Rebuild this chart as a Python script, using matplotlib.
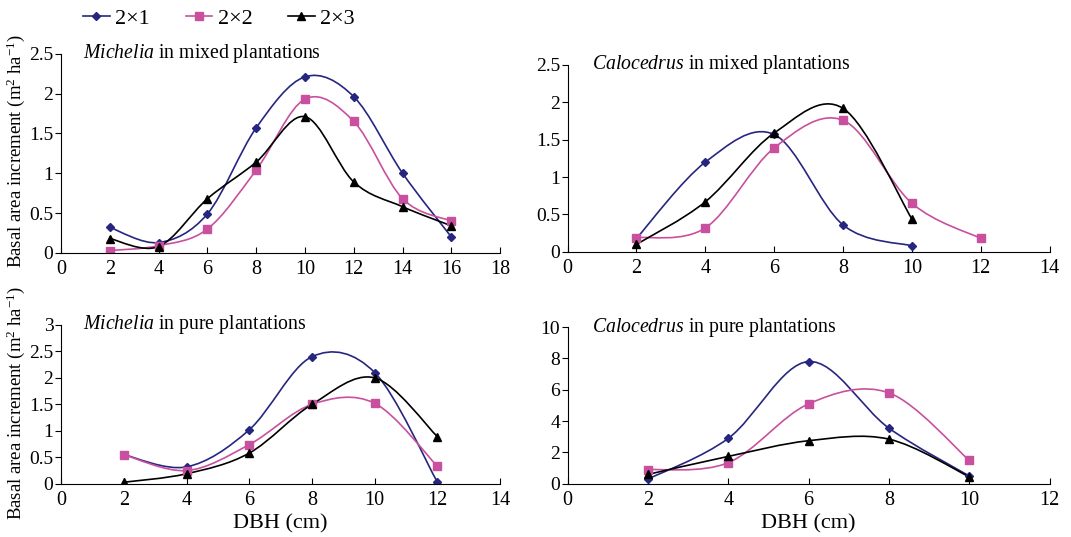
import matplotlib
matplotlib.use('Agg')
import matplotlib.pyplot as plt
import numpy as np
from matplotlib.path import Path
from matplotlib.patches import PathPatch
from matplotlib.lines import Line2D

plt.rcParams['font.family'] = ['Liberation Serif', 'DejaVu Serif']
plt.rcParams['mathtext.fontset'] = 'custom'
plt.rcParams['mathtext.rm'] = 'Liberation Serif'
plt.rcParams['mathtext.it'] = 'Liberation Serif:italic'

series_names = ['2×1', '2×2', '2×3']

# Michelia, mixed plantations
mm_x = [2, 4, 6, 8, 10, 12, 14, 16]
mm_21 = [0.32, 0.13, 0.49, 1.57, 2.21, 1.96, 1.00, 0.20]
mm_22 = [0.03, 0.09, 0.30, 1.04, 1.93, 1.65, 0.68, 0.40]
mm_23 = [0.18, 0.08, 0.68, 1.14, 1.71, 0.89, 0.58, 0.34]

# Calocedrus, mixed plantations
cm_x21 = [2, 4, 6, 8, 10]
cm_21 = [0.18, 1.20, 1.57, 0.36, 0.08]
cm_x22 = [2, 4, 6, 8, 10, 12]
cm_22 = [0.19, 0.32, 1.39, 1.76, 0.65, 0.18]
cm_x23 = [2, 4, 6, 8, 10]
cm_23 = [0.10, 0.67, 1.59, 1.92, 0.44]

# Michelia, pure plantations
mp_x = [2, 4, 6, 8, 10, 12]
mp_21 = [0.55, 0.32, 1.02, 2.40, 2.10, 0.03]
mp_22 = [0.55, 0.25, 0.74, 1.50, 1.52, 0.33]
mp_23 = [0.03, 0.19, 0.58, 1.50, 2.00, 0.89]

# Calocedrus, pure plantations
cp_x = [2, 4, 6, 8, 10]
cp_21 = [0.30, 2.90, 7.80, 3.55, 0.50]
cp_22 = [0.90, 1.35, 5.10, 5.80, 1.50]
cp_23 = [0.60, 1.75, 2.75, 2.85, 0.45]

colors = ['#262680', '#C8509E', '#000000']
markers = ['D', 's', '^']
msizes = [4.5, 5.5, 6]


def smooth_path(x, y, t=1/6):
    # Excel-style smoothed line: cubic Bezier segments through the points
    x = np.asarray(x, float)
    y = np.asarray(y, float)
    n = len(x)
    verts = [(x[0], y[0])]
    codes = [Path.MOVETO]
    for i in range(n - 1):
        p0 = np.array([x[max(i - 1, 0)], y[max(i - 1, 0)]])
        p1 = np.array([x[i], y[i]])
        p2 = np.array([x[i + 1], y[i + 1]])
        p3 = np.array([x[min(i + 2, n - 1)], y[min(i + 2, n - 1)]])
        c1 = p1 + (p2 - p0) * t
        c2 = p2 - (p3 - p1) * t
        verts += [tuple(c1), tuple(c2), tuple(p2)]
        codes += [Path.CURVE4] * 3
    return Path(verts, codes)


def draw(ax, xs, ys, xmax, ymax, ystep, title_it, title_rest):
    for k in range(3):
        ax.add_patch(PathPatch(smooth_path(xs[k], ys[k]), fill=False,
                               edgecolor=colors[k], lw=1.2))
        ax.plot(xs[k], ys[k], linestyle='none', marker=markers[k],
                ms=msizes[k], color=colors[k])
    ax.set_xlim(0, xmax)
    ax.set_ylim(0, ymax)
    ax.set_xticks(np.arange(0, xmax + 1, 2))
    ax.set_yticks(np.arange(0, ymax + ystep / 2, ystep))
    ax.set_yticklabels(['%g' % v for v in np.arange(0, ymax + ystep / 2, ystep)])
    for s in ['top', 'right']:
        ax.spines[s].set_visible(False)
    ax.tick_params(axis='x', direction='in', length=4, labelsize=14.5, pad=5)
    ax.tick_params(axis='y', direction='out', length=4, labelsize=14, pad=1.5)
    ax.text(0.05, 1.0, r'$\it{' + title_it + '}$' + title_rest,
            transform=ax.transAxes, fontsize=14.2, va='center', ha='left')


fig = plt.figure(figsize=(10.71, 5.37), dpi=100)

ax1 = fig.add_axes([0.057, 0.529, 0.410, 0.371])
draw(ax1, [mm_x, mm_x, mm_x], [mm_21, mm_22, mm_23], 18, 2.5, 0.5,
     'Michelia', ' in mixed plantations')
ax1.set_ylabel('Basal area increment (m$^2$ ha$^{-1}$)', fontsize=13.5)
ax1.yaxis.set_label_coords(-0.077, 0.51)

ax2 = fig.add_axes([0.530, 0.531, 0.450, 0.348])
draw(ax2, [cm_x21, cm_x22, cm_x23], [cm_21, cm_22, cm_23], 14, 2.5, 0.5,
     'Calocedrus', ' in mixed plantations')

ax3 = fig.add_axes([0.057, 0.099, 0.410, 0.296])
draw(ax3, [mp_x, mp_x, mp_x], [mp_21, mp_22, mp_23], 14, 3, 0.5,
     'Michelia', ' in pure plantations')
ax3.set_ylabel('Basal area increment (m$^2$ ha$^{-1}$)', fontsize=13.5)
ax3.yaxis.set_label_coords(-0.077, 0.51)
ax3.set_xlabel('DBH (cm)', fontsize=16, labelpad=3)

ax4 = fig.add_axes([0.530, 0.099, 0.450, 0.292])
draw(ax4, [cp_x, cp_x, cp_x], [cp_21, cp_22, cp_23], 12, 10, 2,
     'Calocedrus', ' in pure plantations')
ax4.set_xlabel('DBH (cm)', fontsize=16, labelpad=3)

handles = [Line2D([], [], color=colors[k], marker=markers[k], ms=msizes[k],
                  lw=1.2) for k in range(3)]
fig.legend(handles, series_names, loc='center left', bbox_to_anchor=(0.0775, 0.966),
           ncol=3, frameon=False, fontsize=16, handlelength=1.2,
           handletextpad=0.25, columnspacing=1.6, borderpad=0,
           borderaxespad=0)

plt.savefig('out.png', dpi=100)
